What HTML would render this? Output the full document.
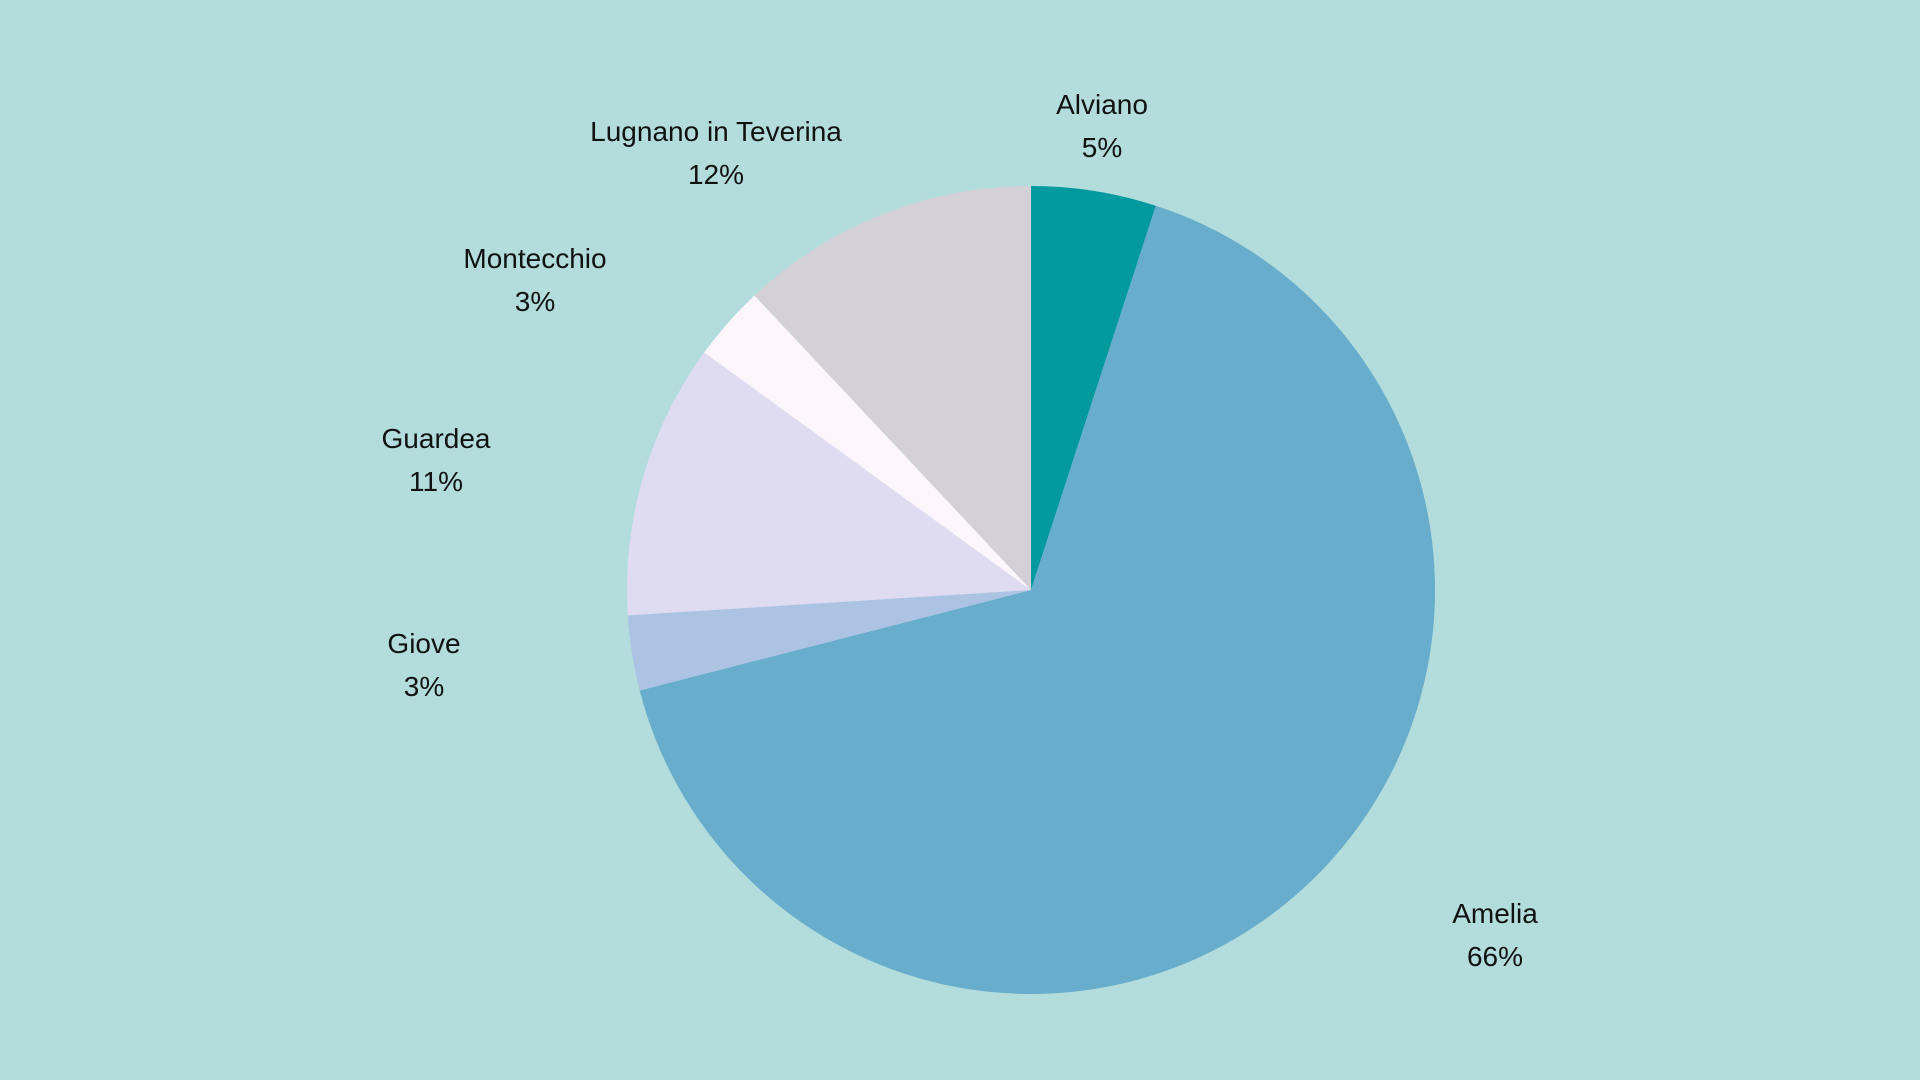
<!DOCTYPE html>
<html><head><meta charset="utf-8"><style>
html,body{margin:0;padding:0;background:#b3dcdc;}
svg{display:block;font-family:"Liberation Sans",sans-serif;}
</style></head><body>
<svg id="chart" width="1920" height="1080" viewBox="0 0 1920 1080">
<rect width="1920" height="1080" fill="#b3dcdc"/>
<g id="slices"></g>
<g id="labels"></g>
</svg>
<script>
const categories = ["Alviano","Amelia","Giove","Guardea","Montecchio","Lugnano in Teverina"];
const values = [5,66,3,11,3,12];
const colors = ["#029a9e","#68adcb","#adc3e4","#dfdcf2","#fdf7fd","#d3d0d8"];
const cx = 1031, cy = 590, R = 404;
const labelPos = [[1102,104],[1495,913],[424,643],[436,438],[535,258],[716,131]];
const NS = "http://www.w3.org/2000/svg";
const total = values.reduce((a,b)=>a+b,0);
function pt(frac, r){const a = frac*2*Math.PI; return [cx + r*Math.sin(a), cy - r*Math.cos(a)];}
const gs = document.getElementById('slices'), gl = document.getElementById('labels');
let acc = 0;
values.forEach((v,i)=>{
  const f0 = acc/total, f1 = (acc+v)/total; acc += v;
  const p0 = pt(f0,R), p1 = pt(f1,R);
  const large = (f1-f0) > 0.5 ? 1 : 0;
  const p = document.createElementNS(NS,'path');
  p.setAttribute('d',`M${cx},${cy} L${p0[0]},${p0[1]} A${R},${R} 0 ${large} 1 ${p1[0]},${p1[1]} Z`);
  p.setAttribute('fill',colors[i]);
  
  
  gs.appendChild(p);
  const [lx,ly] = labelPos[i];
  const t = document.createElementNS(NS,'text');
  t.setAttribute('x',lx); t.setAttribute('y',ly+10);
  t.setAttribute('text-anchor','middle'); t.setAttribute('font-size','28'); t.setAttribute('fill','#111');
  t.textContent = categories[i];
  
  
  gl.appendChild(t);
  const t2 = document.createElementNS(NS,'text');
  t2.setAttribute('x',lx); t2.setAttribute('y',ly+53);
  t2.setAttribute('text-anchor','middle'); t2.setAttribute('font-size','28'); t2.setAttribute('fill','#111');
  t2.textContent = Math.round(v/total*100)+'%';
  
  
  gl.appendChild(t2);
});
</script>
</body></html>
